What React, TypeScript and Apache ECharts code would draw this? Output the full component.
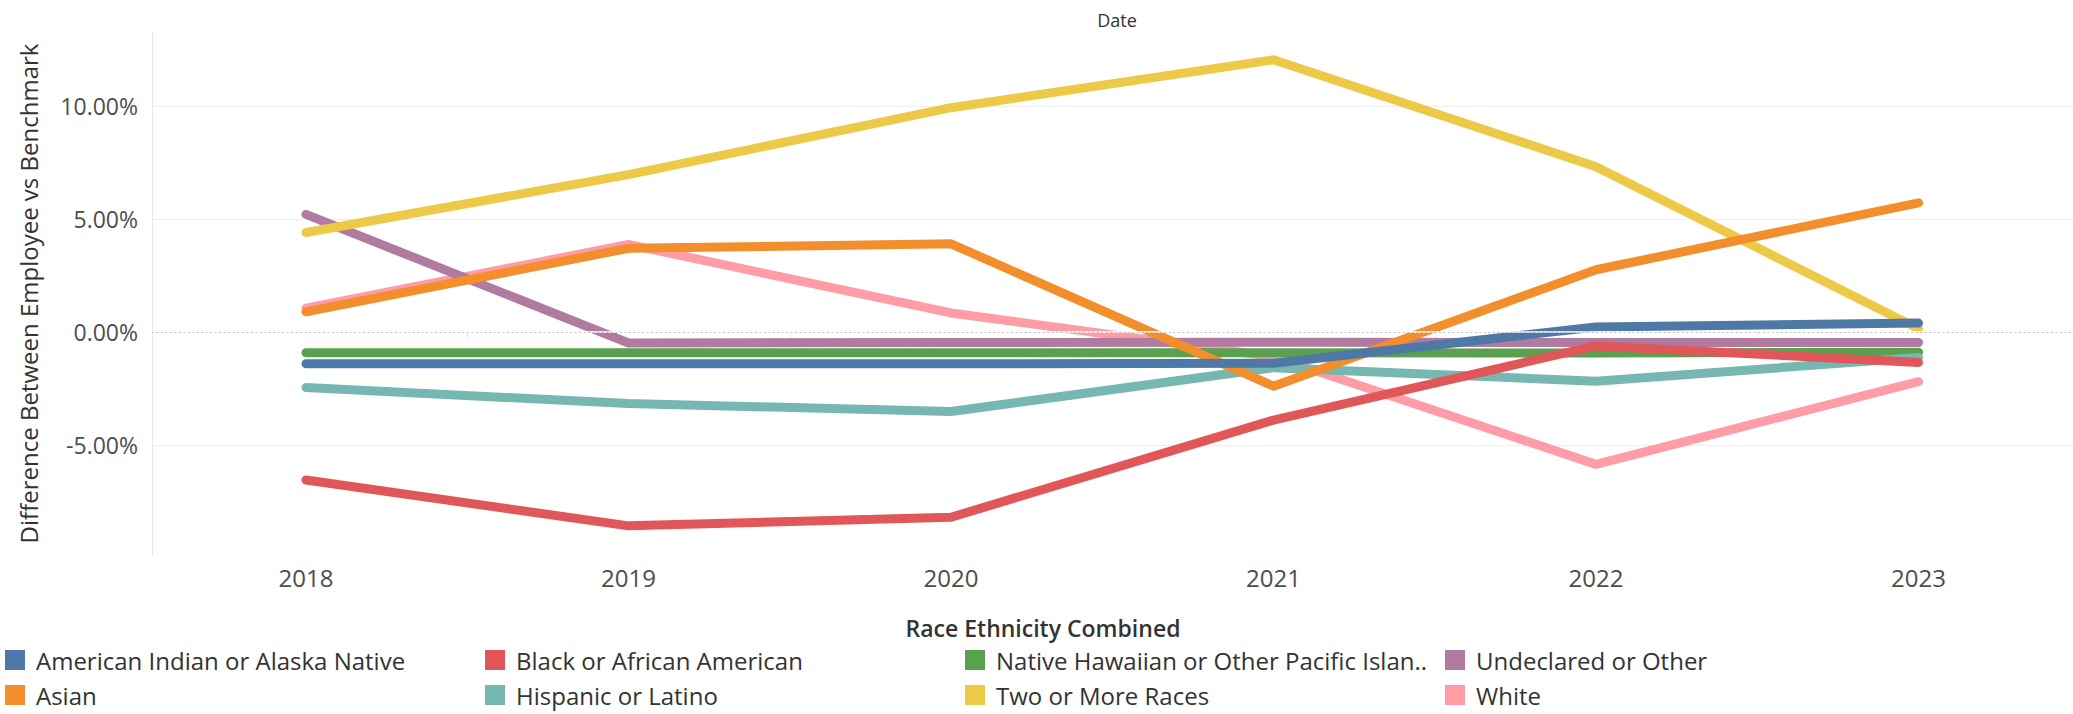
import React, { useEffect, useRef } from 'react';
import * as echarts from 'echarts';

const years = [2018, 2019, 2020, 2021, 2022, 2023];
const americanIndian = [-1.41, -1.41, -1.41, -1.39, 0.22, 0.39];
const asian = [0.89, 3.7, 3.9, -2.4, 2.75, 5.71];
const black = [-6.55, -8.58, -8.2, -3.9, -0.62, -1.35];
const hispanic = [-2.46, -3.17, -3.52, -1.58, -2.18, -1.13];
const nativeHawaiian = [-0.92, -0.92, -0.92, -0.92, -0.93, -0.9];
const twoOrMore = [4.4, 6.96, 9.92, 12.04, 7.31, 0.14];
const undeclared = [5.2, -0.49, -0.47, -0.46, -0.47, -0.47];
const white = [1.05, 3.87, 0.84, -1.1, -5.86, -2.2];

const legendOrder = [
  'American Indian or Alaska Native',
  'Asian',
  'Black or African American',
  'Hispanic or Latino',
  'Native Hawaiian or Other Pacific Islander',
  'Two or More Races',
  'Undeclared or Other',
  'White',
];
const legendLabels = [
  'American Indian or Alaska Native',
  'Asian',
  'Black or African American',
  'Hispanic or Latino',
  'Native Hawaiian or Other Pacific Islan..',
  'Two or More Races',
  'Undeclared or Other',
  'White',
];
const seriesValues = [americanIndian, asian, black, hispanic, nativeHawaiian, twoOrMore, undeclared, white];
const seriesColors = ['#4e79a7', '#f28e2b', '#e15759', '#76b7b2', '#59a14f', '#edc948', '#b07aa1', '#ff9da7'];

const yTickValues = [-5, 0, 5, 10];
const xBoundaryTicks = [2018.5, 2019.5, 2020.5, 2021.5, 2022.5];

const FONT = "'Open Sans', 'Noto Sans', sans-serif";

export default function App() {
  const ref = useRef<HTMLDivElement>(null);
  useEffect(() => {
    if (!ref.current) return;
    const chart = echarts.init(ref.current, null, { renderer: 'svg' });

    // first legend item drawn on top: add in reverse order
    const lineSeries: any[] = [];
    for (let i = legendOrder.length - 1; i >= 0; i--) {
      lineSeries.push({
        name: legendOrder[i],
        type: 'line',
        z: 3,
        data: years.map((y, k) => [y, seriesValues[i][k]]),
        showSymbol: false,
        symbol: 'none',
        color: seriesColors[i],
        itemStyle: { color: seriesColors[i], borderWidth: 0 },
        lineStyle: { color: seriesColors[i], width: 9, cap: 'round', join: 'round' },
        emphasis: { disabled: true },
      });
    }

    const colLefts = [5, 485, 965, 1445];
    const rowTops = [648, 683];
    const legends = legendOrder.map((name, i) => {
      const col = Math.floor(i / 2);
      const row = i % 2;
      return {
        data: [{ name, icon: 'rect' }],
        left: colLefts[col],
        top: rowTops[row],
        padding: 0,
        itemWidth: 20,
        itemHeight: 20,
        itemStyle: { borderWidth: 0 },
        selectedMode: false,
        formatter: () => legendLabels[i],
        textStyle: { fontFamily: FONT, fontSize: 24, color: '#333', padding: [0, 0, 0, 6] },
      };
    });

    chart.setOption({
      animation: false,
      backgroundColor: '#ffffff',
      title: [
        {
          text: 'Date',
          left: 1112,
          top: 6,
          textAlign: 'center',
          textStyle: { fontFamily: FONT, fontSize: 18, fontWeight: 'normal', color: '#333' },
        },
        {
          text: 'Race Ethnicity Combined',
          left: 1038,
          top: 611,
          textAlign: 'center',
          textStyle: { fontFamily: FONT, fontSize: 23, fontWeight: 600, color: '#333' },
        },
      ],
      legend: legends,
      grid: { left: 152, right: 0, top: 32, bottom: 159, containLabel: false },
      xAxis: {
        type: 'value',
        min: 2017.5225,
        max: 2023.479,
        axisLine: { show: true, lineStyle: { color: '#e6e6e6', width: 1 } },
        axisTick: { show: true, customValues: xBoundaryTicks, length: 6, lineStyle: { color: '#e6e6e6' } },
        axisLabel: {
          customValues: years,
          margin: 10,
          fontFamily: FONT,
          fontSize: 24,
          color: '#4d4d4d',
          formatter: (v: number) => String(Math.round(v)),
        },
        splitLine: { show: false },
      },
      yAxis: {
        type: 'value',
        min: -9.87,
        max: 13.27,
        name: 'Difference Between Employee vs Benchmark',
        nameLocation: 'middle',
        nameRotate: 90,
        nameGap: 112,
        nameTextStyle: { fontFamily: FONT, fontSize: 24, color: '#333' },
        axisLine: { show: true, lineStyle: { color: '#e6e6e6', width: 1 } },
        axisTick: { show: false },
        axisLabel: {
          customValues: yTickValues,
          margin: 14,
          fontFamily: FONT,
          fontSize: 23,
          color: '#4d4d4d',
          formatter: (v: number) => v.toFixed(2) + '%',
        },
        splitLine: { show: true, showMinLine: false, showMaxLine: false, lineStyle: { color: '#efefef', width: 1 } },
      },
      series: [
        {
          name: 'zero',
          type: 'line',
          z: 1,
          data: [],
          silent: true,
          markLine: {
            silent: true,
            symbol: 'none',
            label: { show: false },
            animation: false,
            data: [
              { yAxis: 0, lineStyle: { color: '#ffffff', type: 'solid', width: 1.5 } },
              { yAxis: 0, lineStyle: { color: '#b5b5b5', type: [1.5, 3], width: 1 } },
            ],
          },
        },
        ...lineSeries,
      ],
    });

    return () => chart.dispose();
  }, []);

  return (
    <div
      ref={ref}
      style={{ position: 'fixed', left: 0, top: 0, width: 2073, height: 714, background: '#fff' }}
    />
  );
}
